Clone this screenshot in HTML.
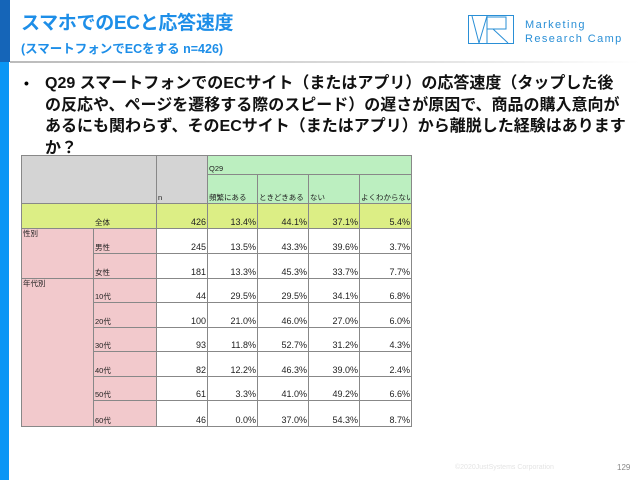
<!DOCTYPE html>
<html><head><meta charset="utf-8"><style>
*{margin:0;padding:0;box-sizing:border-box}
body{width:640px;height:480px;position:relative;background:#fff;overflow:hidden;font-family:"Liberation Sans","Noto Sans CJK JP",sans-serif}
.a{position:absolute}
.c{position:absolute;border-right:1px solid #888;border-bottom:1px solid #888;font-size:7.5px;color:#222;padding:0 1px 1px 1px;display:flex;align-items:flex-end;line-height:9px;white-space:nowrap;overflow:hidden}
.r{justify-content:flex-end}
.t{align-items:flex-start}
.num{font-size:9px}
</style></head><body>
<div class="a" style="left:0;top:0;width:10px;height:62px;background:#1565b8"></div>
<div class="a" style="left:0;top:62px;width:9px;height:418px;background:#0a96f5"></div>
<div class="a" style="left:10px;top:61px;width:630px;height:2px;background:linear-gradient(90deg,#bbb,#ddd 60%,#fff)"></div>
<div class="a" style="left:21px;top:8px;font-size:19px;font-weight:bold;color:#1d8ee8;letter-spacing:-0.3px;white-space:nowrap">スマホでのECと応答速度</div>
<div class="a" style="left:21px;top:38px;font-size:12.5px;font-weight:bold;color:#1d8ee8;white-space:nowrap">(スマートフォンでECをする n=426)</div>
<svg class="a" style="left:468px;top:15px" width="46" height="29" viewBox="0 0 46 29"><g fill="none" stroke="#2a8fd6" stroke-width="1"><rect x="0.5" y="0.5" width="45" height="28"/><path d="M4 1 L11 28 L19 1 M19 1 V28 M19 2 H38 V14 H19 M25 14 L40 28"/></g></svg>
<div class="a" style="left:525px;top:18px;font-size:11px;color:#2a8fd6;letter-spacing:1.4px;line-height:14px">Marketing<br>Research Camp</div>
<div class="a" style="left:24px;top:75px;font-size:14px;font-weight:bold">•</div>
<div class="a" style="left:45px;top:73px;font-size:16px;font-weight:bold;color:#111;line-height:21.5px;white-space:nowrap">Q29 スマートフォンでのECサイト（またはアプリ）の応答速度（タップした後<br>の反応や、ページを遷移する際のスピード）の遅さが原因で、商品の購入意向が<br>あるにも関わらず、そのECサイト（またはアプリ）から離脱した経験はあります<br>か？</div>
<div class="a" style="left:21px;top:155px;width:391px;height:272px;border-left:1px solid #888;border-top:1px solid #888"></div>
<div class="c" style="left:22px;top:156px;width:135px;height:48px;background:#d4d4d4"></div>
<div class="c" style="left:157px;top:156px;width:51px;height:48px;background:#d4d4d4">n</div>
<div class="c t" style="left:208px;top:156px;width:204px;height:19px;background:#bcefc0;align-items:flex-end">Q29</div>
<div class="c" style="left:208px;top:175px;width:50px;height:29px;background:#bcefc0">頻繁にある</div>
<div class="c" style="left:258px;top:175px;width:51px;height:29px;background:#bcefc0">ときどきある</div>
<div class="c" style="left:309px;top:175px;width:51px;height:29px;background:#bcefc0">ない</div>
<div class="c" style="left:360px;top:175px;width:52px;height:29px;background:#bcefc0">よくわからない</div>
<div class="c" style="left:22px;top:204px;width:135px;height:25px;background:#dcee85;padding-left:73px">全体</div>
<div class="c r num" style="left:157px;top:204px;width:51px;height:25px;background:#dcee85">426</div>
<div class="c r num" style="left:208px;top:204px;width:50px;height:25px;background:#dcee85">13.4%</div>
<div class="c r num" style="left:258px;top:204px;width:51px;height:25px;background:#dcee85">44.1%</div>
<div class="c r num" style="left:309px;top:204px;width:51px;height:25px;background:#dcee85">37.1%</div>
<div class="c r num" style="left:360px;top:204px;width:52px;height:25px;background:#dcee85">5.4%</div>
<div class="c t" style="left:22px;top:229px;width:72px;height:50px;background:#f2c9cc">性別</div>
<div class="c" style="left:94px;top:229px;width:63px;height:25px;background:#f2c9cc">男性</div>
<div class="c" style="left:94px;top:254px;width:63px;height:25px;background:#f2c9cc">女性</div>
<div class="c t" style="left:22px;top:279px;width:72px;height:148px;background:#f2c9cc">年代別</div>
<div id="rows"></div>
<script>
var rows=[["男性",229,25,245,"13.5%","43.3%","39.6%","3.7%"],["女性",254,25,181,"13.3%","45.3%","33.7%","7.7%"],
["10代",279,24,44,"29.5%","29.5%","34.1%","6.8%"],["20代",303,25,100,"21.0%","46.0%","27.0%","6.0%"],
["30代",328,24,93,"11.8%","52.7%","31.2%","4.3%"],["40代",352,25,82,"12.2%","46.3%","39.0%","2.4%"],
["50代",377,24,61,"3.3%","41.0%","49.2%","6.6%"],["60代",401,26,46,"0.0%","37.0%","54.3%","8.7%"]];
var xs=[157,208,258,309,360,412],h="";
rows.forEach(function(r,i){
 if(i>=2)h+='<div class="c" style="left:94px;top:'+r[1]+'px;width:63px;height:'+r[2]+'px;background:#f2c9cc">'+r[0]+'</div>';
 for(var k=0;k<5;k++)h+='<div class="c r num" style="left:'+xs[k]+'px;top:'+r[1]+'px;width:'+(xs[k+1]-xs[k])+'px;height:'+r[2]+'px">'+r[3+k]+'</div>';
});
document.getElementById("rows").outerHTML=h;
</script>
<div class="a" style="left:455px;top:464px;font-size:7px;color:#e4e4e4">©2020JustSystems Corporation</div>
<div class="a" style="left:617px;top:463px;font-size:8px;color:#888">129</div>
</body></html>
